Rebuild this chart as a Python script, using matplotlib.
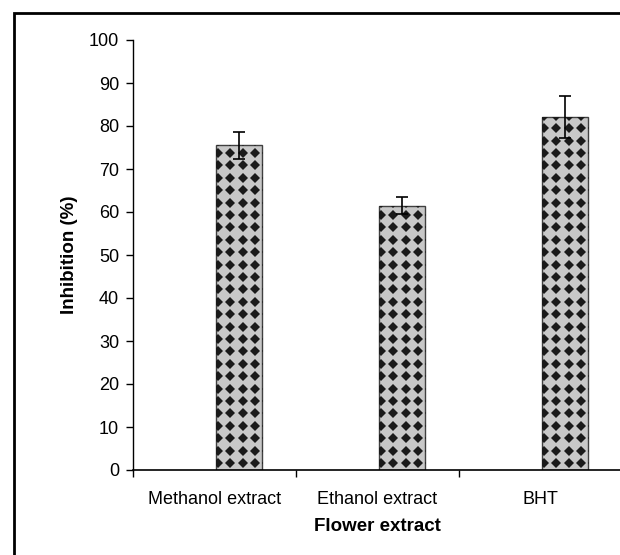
import matplotlib
matplotlib.use("Agg")
import matplotlib.pyplot as plt
from matplotlib.patches import Rectangle
import numpy as np

plt.rcParams['font.family'] = ['Liberation Sans', 'DejaVu Sans']

categories = ["Methanol extract", "Ethanol extract", "BHT"]
inhibition = [75.5, 61.5, 82.0]
errors = [3.2, 2.0, 4.9]
yticks = list(range(0, 101, 10))

fig = plt.figure(figsize=(6.2, 5.55), dpi=100)
ax = fig.add_axes([133 / 620, 1 - 470 / 555, 489 / 620, 430 / 555])

centers = np.arange(len(categories)) + 0.5
bar_x = centers + 0.15
bar_w = 0.28
bars = ax.bar(bar_x, inhibition, width=bar_w, color="#c8c8c8",
              edgecolor="#404040", linewidth=1.0, zorder=2)
ax.errorbar(bar_x, inhibition, yerr=errors, fmt="none", ecolor="black",
            elinewidth=1.2, capsize=4.5, capthick=1.2, zorder=4)

ax.set_xlim(0, len(categories))
ax.set_ylim(0, 100)

# diamond pattern inside each bar
dx = 12.4 / 163
dy = 12.4 / 4.3
for b in bars:
    left, w, h = b.get_x(), b.get_width(), b.get_height()
    xs = np.arange(left + 0.01, left + w + dx, dx)
    ys = np.arange(7 / 4.3, h + dy, dy)
    gx, gy = np.meshgrid(xs, ys)
    pts, = ax.plot(gx.ravel(), gy.ravel(), linestyle="none", marker="D",
                   markersize=5.3, color="#1a1a1a", markeredgewidth=0, zorder=3)
    pts.set_clip_path(b)

ax.set_yticks(yticks)
ax.set_xticks(np.arange(len(categories) + 1))
ax.set_xticklabels([])
ax.set_xticks(centers, minor=True)
ax.set_xticklabels(categories, minor=True)
ax.tick_params(axis="x", which="minor", length=0, pad=15, labelsize=13)
ax.tick_params(axis="x", which="major", length=5, width=1, direction="out")
ax.tick_params(axis="y", length=5, width=1, direction="out", labelsize=13, pad=5)

for s in ["top", "right"]:
    ax.spines[s].set_visible(False)
ax.spines["left"].set_linewidth(1)
ax.spines["bottom"].set_linewidth(1.2)

ax.set_ylabel("Inhibition (%)", fontsize=13.5, fontweight="bold", labelpad=8)
ax.set_xlabel("Flower extract", fontsize=13.5, fontweight="bold", labelpad=7)

fig.patches.append(Rectangle((14 / 620, -0.1), 1.1, 1 - 13 / 555 + 0.1,
                             transform=fig.transFigure, fill=False,
                             edgecolor="black", linewidth=2, zorder=0))

fig.savefig("out.png", dpi=100)
